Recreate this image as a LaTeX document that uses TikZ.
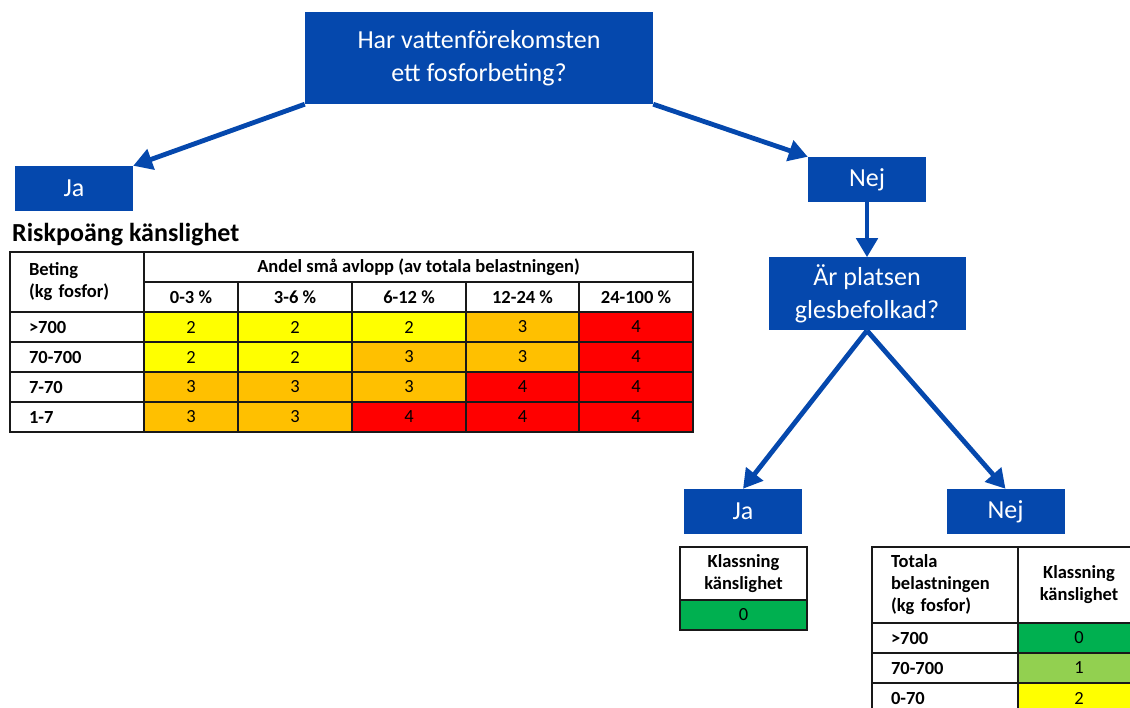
\documentclass[tikz,border=0pt]{standalone}
\usepackage{fontspec}
\setmainfont{Carlito}
\usepackage{tikz}
\usetikzlibrary{positioning,arrows.meta}
\definecolor{flowblue}{HTML}{0548AD}
\definecolor{risk0}{HTML}{00B050}
\definecolor{risk1}{HTML}{92D050}
\definecolor{risk2}{HTML}{FFFF00}
\definecolor{risk3}{HTML}{FFC000}
\definecolor{risk4}{HTML}{FF0000}

\begin{document}
\begin{tikzpicture}[
  x=1pt, y=-1pt,
  question/.style={rectangle, fill=flowblue, text=white, align=center, inner sep=0pt, font=\fontsize{26}{33}\selectfont},
  answer/.style={question, minimum width=118pt, minimum height=45pt},
  arrow/.style={-{Triangle[width=21pt,length=19pt]}, line width=4.8pt, draw=flowblue},
  cell/.style={rectangle, draw=black!90, line width=2pt, inner sep=0pt, outer sep=0pt, anchor=north west, font=\fontsize{18.5}{22}\selectfont},
  headcell/.style={cell, align=center, font=\fontsize{18.5}{22}\selectfont\bfseries},
  labelcell/.style={headcell, align=left, inner xsep=19pt, text width=#1}
]
\clip (0,0) rectangle (1130,708);
% decision boxes
\node[question, minimum width=348pt, minimum height=92pt] (fosfor) at (479,58) {Har vattenförekomsten\\ett fosforbeting?};
\node[answer] (ja-1) at (74,188.5) {Ja};
\node[answer] (nej-1) at (867,179.5) {Nej};
\node[question, minimum width=197pt, minimum height=73pt, below=55pt of nej-1] (gles) {Är platsen\\glesbefolkad?};
\node[answer] (ja-2) at (743,511.5) {Ja};
\node[answer] (nej-2) at (1005.5,511.5) {Nej};
\draw[arrow] (fosfor.south west) -- (ja-1.north east);
\draw[arrow] (fosfor.south east) -- (nej-1.north west);
\draw[arrow] (nej-1) -- (gles);
\draw[arrow] (gles.south) -- (ja-2.north);
\draw[arrow] (gles.south) -- (nej-2.north);
% riskpoang table
\node[anchor=base west, inner sep=0pt, font=\fontsize{26}{30}\selectfont\bfseries] (title) at (12,242) {Riskpoäng känslighet};
\node[labelcell=96pt, minimum height=60pt] (beting) at (10,252) {Beting\\(kg fosfor)};
\node[headcell, minimum width=549pt, minimum height=30pt] (andel) at (144,252) {Andel små avlopp (av totala belastningen)};
\foreach \lab [count=\r] in {>700,70-700,7-70,1-7}
  \node[labelcell=96pt, minimum height=30pt] (beting-\r) at (10,282+30*\r) {\lab};
\foreach \x/\w/\head/\vals [count=\c] in {144/94/{0-3 \%}/{2,2,3,3}, 238/114/{3-6 \%}/{2,2,3,3}, 352/114/{6-12 \%}/{2,3,3,4}, 466/113/{12-24 \%}/{3,3,4,4}, 579/114/{24-100 \%}/{4,4,4,4}} {
  \node[headcell, minimum width=\w, minimum height=30pt] (andel-\c) at (\x,282) {\head};
  \foreach \v [count=\r] in \vals
    \node[cell, fill=risk\v, minimum width=\w, minimum height=30pt] (risk-\r-\c) at (\x,282+30*\r) {\v};
}
% klassning tables
\node[headcell, minimum width=127pt, minimum height=53pt] (klass-ja) at (680,547) {Klassning\\känslighet};
\node[cell, fill=risk0, minimum width=127pt, minimum height=30pt, below=0pt of klass-ja] (klass-0) {0};
\node[labelcell=108pt, minimum height=76pt] (total) at (872,547) {Totala\\belastningen\\(kg fosfor)};
\node[headcell, minimum width=122pt, minimum height=76pt] (klass-nej) at (1018,547) {Klassning\\känslighet};
\foreach \lab/\v [count=\r] in {>700/0,70-700/1,0-70/2} {
  \node[labelcell=108pt, minimum height=30pt] (total-\r) at (872,593+30*\r) {\lab};
  \node[cell, fill=risk\v, minimum width=122pt, minimum height=30pt] (klass-\r) at (1018,593+30*\r) {\v};
}
\end{tikzpicture}
\end{document}
